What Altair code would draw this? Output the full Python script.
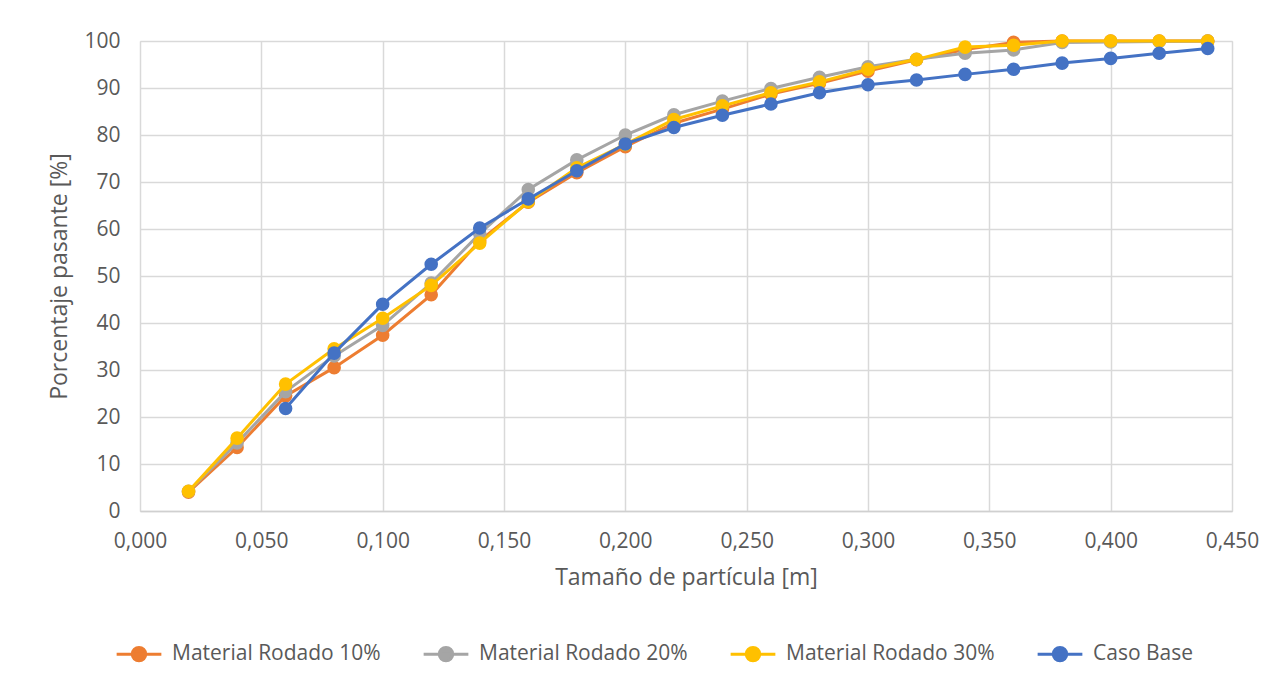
import altair as alt
import pandas as pd

xs = [0.02, 0.04, 0.06, 0.08, 0.10, 0.12, 0.14, 0.16, 0.18, 0.20, 0.22,
      0.24, 0.26, 0.28, 0.30, 0.32, 0.34, 0.36, 0.38, 0.40, 0.42, 0.44]
r10 = [4.0, 13.5, 24.5, 30.5, 37.4, 46.0, 57.5, 65.7, 72.0, 77.5, 82.5,
       85.5, 88.7, 91.0, 93.6, 96.0, 98.2, 99.7, 100, 100, 100, 100]
r20 = [4.2, 14.5, 25.4, 33.0, 39.5, 48.5, 59.0, 68.4, 74.7, 80.0, 84.3,
       87.2, 89.9, 92.3, 94.5, 96.1, 97.4, 98.1, 99.7, 99.8, 99.9, 100]
r30 = [4.2, 15.5, 27.0, 34.5, 41.0, 48.0, 57.0, 65.8, 73.0, 78.0, 83.3,
       86.2, 89.0, 91.3, 94.0, 96.1, 98.7, 99.1, 100, 100, 100, 100]
base = [None, None, 21.8, 33.6, 44.0, 52.5, 60.2, 66.4, 72.4, 78.1, 81.6,
        84.2, 86.6, 89.0, 90.7, 91.7, 92.9, 94.0, 95.3, 96.3, 97.4, 98.4]

series = ["Material Rodado 10%", "Material Rodado 20%", "Material Rodado 30%", "Caso Base"]
colors = ["#ED7D31", "#A5A5A5", "#FFC000", "#4472C4"]

rows = []
for name, vals in zip(series, [r10, r20, r30, base]):
    for x, v in zip(xs, vals):
        if v is not None:
            rows.append({"x": x, "y": v, "serie": name})
df = pd.DataFrame(rows)

FONT = "Open Sans"
TXT = "#595959"
color = alt.Color(
    "serie:N",
    scale=alt.Scale(domain=series, range=colors),
    legend=alt.Legend(
        title=None, orient="none", direction="horizontal",
        legendX=-25, legendY=589,
        symbolType="M-1,0L1,0M-0.3,0A0.3,0.3 0 1,0 0.3,0A0.3,0.3 0 1,0 -0.3,0Z",
        symbolSize=2000, symbolStrokeWidth=3,
        labelFont=FONT, labelFontSize=21, labelColor=TXT, labelLimit=400,
        columnPadding=36, labelOffset=9,
    ),
)

xenc = alt.X(
    "x:Q",
    scale=alt.Scale(domain=[0, 0.45], nice=False),
    axis=alt.Axis(
        title="Tamaño de partícula [m]", values=[i * 0.05 for i in range(10)],
        labelExpr="replace(format(datum.value, '.3f'), '.', ',')",
        labelFont=FONT, labelFontSize=21, labelColor=TXT, labelPadding=19,
        labelFlush=False,
        titleFont=FONT, titleFontSize=23, titleFontWeight="normal", titleColor=TXT,
        titlePadding=15, ticks=False, domainColor="#d0d0d0", domainWidth=1.5,
        gridColor="#d9d9d9", gridWidth=1.5,
    ),
)
yenc = alt.Y(
    "y:Q",
    scale=alt.Scale(domain=[0, 100], nice=False),
    axis=alt.Axis(
        title="Porcentaje pasante [%]", values=list(range(0, 101, 10)),
        labelFont=FONT, labelFontSize=21, labelColor=TXT, labelPadding=20,
        titleFont=FONT, titleFontSize=23, titleFontWeight="normal", titleColor=TXT,
        titlePadding=12, ticks=False, domain=False,
        gridColor="#d9d9d9", gridWidth=1.5,
    ),
)

layers = []
for name in series:
    c = alt.Chart(df[df["serie"] == name])
    layers.append(c.mark_line(strokeWidth=3).encode(x=xenc, y=yenc, color=color, order="x:Q"))
    layers.append(c.mark_circle(size=185, opacity=1).encode(x="x:Q", y="y:Q", color=color))

chart = alt.layer(*layers).properties(
    width=1092, height=470,
    autosize=alt.AutoSizeParams(type="none"),
    padding={"left": 132, "top": 33, "right": 42, "bottom": 167},
).configure_view(stroke=None).configure(background="white")

chart.save("out.html", embed_options={"renderer": "svg", "actions": False})
